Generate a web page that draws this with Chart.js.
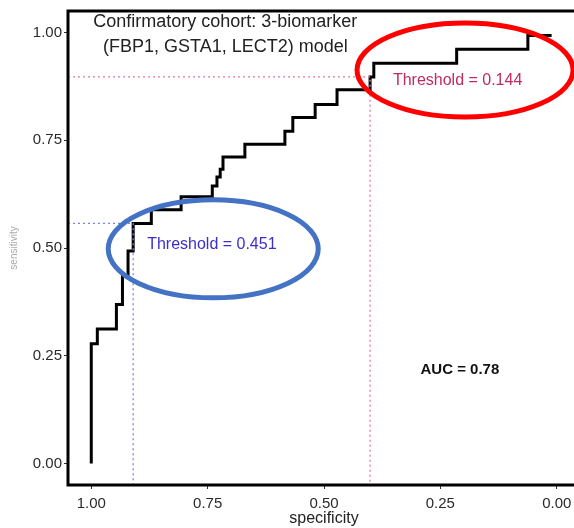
<!DOCTYPE html>
<html>
<head>
<meta charset="utf-8">
<script src="https://cdn.jsdelivr.net/npm/chart.js@4"></script>
<style>
  html, body { margin: 0; padding: 0; background: #fff; overflow: hidden; }
  #wrap { position: absolute; left: 0; top: 0; }
</style>
</head>
<body>
<div id="wrap"><canvas id="rocChart" width="600" height="528"></canvas></div>
<script>
// ROC curve vertices (specificity runs from 1 down to 0)
const specificity = [1.000, 1.000, 0.987, 0.946, 0.933, 0.921, 0.910, 0.871, 0.807, 0.740, 0.730, 0.723, 0.717, 0.670, 0.584, 0.567, 0.519, 0.472, 0.401, 0.393, 0.215, 0.062, 0.011];
const sensitivity = [0.000, 0.278, 0.312, 0.369, 0.436, 0.493, 0.557, 0.589, 0.619, 0.644, 0.665, 0.683, 0.711, 0.741, 0.771, 0.803, 0.833, 0.867, 0.897, 0.929, 0.961, 0.993, 0.993];

// thresholds marked on the curve
const thresholdValues = ['0.451', '0.144'];
const thresholdSpec = [0.910, 0.401];
const thresholdSens = [0.557, 0.897];

const tickValues = [0, 0.25, 0.5, 0.75, 1];
const aucText = 'AUC = 0.78';
const titleLines = ['Confirmatory cohort: 3-biomarker', '(FBP1, GSTA1, LECT2) model'];

const AXIS_LO = -0.05;
const AXIS_HI = 1.05;

const threshColors = ['#8080e0', '#e87a98'];
const threshTextColors = ['#3b2fc8', '#c02a62'];
const ringColors = ['#4472c4', '#ff0000'];

const rocPoints = specificity.map((s, i) => ({ x: s, y: sensitivity[i] }));

function guideLines(i) {
    // horizontal from the left edge, then down to the bottom edge
    return [
        { x: AXIS_HI, y: thresholdSens[i] },
        { x: thresholdSpec[i], y: thresholdSens[i] },
        { x: thresholdSpec[i], y: AXIS_LO }
    ];
}

const datasets = [0, 1].map(i => ({
    data: guideLines(i),
    borderColor: threshColors[i],
    borderWidth: 1.3,
    borderDash: [2, 3],
    pointRadius: 0,
    fill: false
}));
datasets.push({
    data: rocPoints,
    borderColor: '#000',
    borderWidth: 3,
    stepped: true,
    pointRadius: 0,
    fill: false
});

const fixedTicks = scale => { scale.ticks = tickValues.map(v => ({ value: v })); };

const annotations = {
    id: 'annotations',
    afterDatasetsDraw(chart) {
        const { ctx, chartArea: a, scales: { x, y } } = chart;
        ctx.save();
        // panel frame
        ctx.strokeStyle = '#000';
        ctx.lineWidth = 3;
        ctx.strokeRect(a.left, a.top, a.right - a.left, a.bottom - a.top);

        ctx.textBaseline = 'middle';
        ctx.font = '18px "Liberation Sans", Arial, sans-serif';
        ctx.fillStyle = '#222';
        ctx.textAlign = 'center';
        ctx.fillText(titleLines[0], x.getPixelForValue(0.712), y.getPixelForValue(1.025));
        ctx.fillText(titleLines[1], x.getPixelForValue(0.712), y.getPixelForValue(0.967));

        ctx.font = 'bold 15px "Liberation Sans", Arial, sans-serif';
        ctx.fillStyle = '#111';
        ctx.fillText(aucText, x.getPixelForValue(0.208), y.getPixelForValue(0.218));

        // threshold labels sit just right of and below their point
        ctx.font = '16px "Liberation Sans", Arial, sans-serif';
        ctx.textAlign = 'left';
        const labelSpec = [0.880, 0.352];
        const labelSens = [0.507, 0.889];
        [0, 1].forEach(i => {
            ctx.fillStyle = threshTextColors[i];
            ctx.fillText('Threshold = ' + thresholdValues[i],
                x.getPixelForValue(labelSpec[i]), y.getPixelForValue(labelSens[i]));
        });

        // highlight rings around the labels
        const ringSpec = [0.738, 0.197];
        const ringSens = [0.498, 0.913];
        const ringR = [[105, 49], [108, 47]];
        ctx.lineWidth = 5;
        [0, 1].forEach(i => {
            ctx.strokeStyle = ringColors[i];
            ctx.beginPath();
            ctx.ellipse(x.getPixelForValue(ringSpec[i]), y.getPixelForValue(ringSens[i]),
                ringR[i][0], ringR[i][1], 0, 0, Math.PI * 2);
            ctx.stroke();
        });
        ctx.restore();
    }
};

const ctx = document.getElementById('rocChart').getContext('2d');
new Chart(ctx, {
    type: 'line',
    data: { datasets: datasets },
    options: {
        responsive: false,
        animation: false,
        devicePixelRatio: 1,
        layout: { padding: { top: 7, right: 20, left: 0, bottom: 0 } },
        plugins: { legend: { display: false }, tooltip: { enabled: false } },
        scales: {
            x: {
                type: 'linear',
                reverse: true,
                min: AXIS_LO,
                max: AXIS_HI,
                afterBuildTicks: fixedTicks,
                afterFit: s => { s.height = 43; },
                border: { display: false },
                grid: { drawOnChartArea: false, tickLength: 4, color: '#333' },
                ticks: {
                    padding: 6,
                    color: '#2a2a2a',
                    font: { size: 15, family: '"Liberation Sans", Arial, sans-serif' },
                    callback: v => v.toFixed(2)
                },
                title: {
                    display: true,
                    text: 'specificity',
                    color: '#222',
                    padding: { top: 0, bottom: 0 },
                    font: { size: 16, family: '"Liberation Sans", Arial, sans-serif' }
                }
            },
            y: {
                type: 'linear',
                min: AXIS_LO,
                max: AXIS_HI,
                afterBuildTicks: fixedTicks,
                afterFit: s => { s.width = 68; },
                border: { display: false },
                grid: { drawOnChartArea: false, tickLength: 4, color: '#333' },
                ticks: {
                    padding: 2,
                    color: '#2a2a2a',
                    font: { size: 15, family: '"Liberation Sans", Arial, sans-serif' },
                    callback: v => v.toFixed(2)
                },
                title: {
                    display: true,
                    text: 'sensitivity',
                    color: '#aaa',
                    padding: { top: 8, bottom: 0 },
                    font: { size: 10, family: '"Liberation Sans", Arial, sans-serif' }
                }
            }
        }
    },
    plugins: [annotations]
});
</script>
</body>
</html>
